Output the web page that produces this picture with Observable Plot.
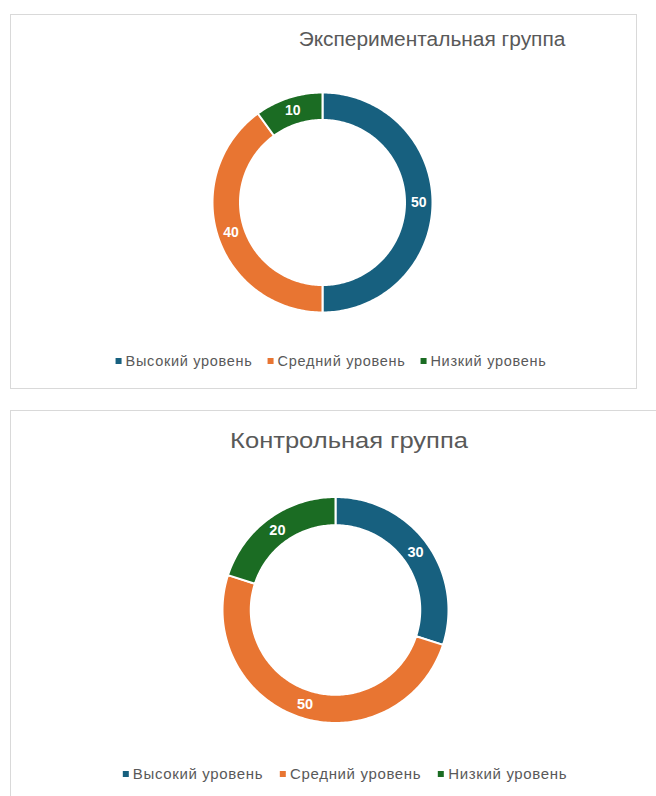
<!DOCTYPE html>
<html>
<head>
<meta charset="utf-8">
<script src="https://cdn.jsdelivr.net/npm/d3@7"></script>
<script src="https://cdn.jsdelivr.net/npm/@observablehq/plot@0.6"></script>
<style>
  html, body { margin: 0; padding: 0; background: #fff; overflow: hidden; }
  body { width: 656px; height: 796px; position: relative; font-family: "Liberation Sans", Arial, sans-serif; }
  .box { position: absolute; border: 1px solid #d9d9d9; box-sizing: border-box; background: #fff; }
  .chart { position: absolute; }
  .title { position: absolute; color: #595959; white-space: nowrap; }
  .legend { position: absolute; display: flex; align-items: center; white-space: nowrap; color: #595959; transform: translateX(-50%); }
  .legend .item { display: flex; align-items: center; }
  .legend .sw { display: inline-block; width: 6px; height: 6px; margin-right: 4px; }
</style>
</head>
<body>
<script>
// ---- data ----
const categories = ["Высокий уровень", "Средний уровень", "Низкий уровень"];
const colors = ["#17607f", "#e87532", "#1b6c23"];
const experimentalValues = [50, 40, 10];
const controlValues = [30, 50, 20];
const titles = ["Экспериментальная группа", "Контрольная группа"];

const HOLE = 0.75; // inner radius / outer radius

function ringFeatures(values) {
  const total = d3.sum(values);
  let acc = 0;
  const feats = [], labels = [];
  values.forEach((v, i) => {
    const a0 = acc / total * 2 * Math.PI;
    acc += v;
    const a1 = acc / total * 2 * Math.PI;
    const n = Math.max(8, Math.ceil((a1 - a0) / (Math.PI / 180)));
    const ring = [];
    for (let k = 0; k <= n; k++) {
      const a = a0 + (a1 - a0) * k / n;
      ring.push([Math.sin(a), -Math.cos(a)]);
    }
    for (let k = n; k >= 0; k--) {
      const a = a0 + (a1 - a0) * k / n;
      ring.push([HOLE * Math.sin(a), -HOLE * Math.cos(a)]);
    }
    ring.push(ring[0]);
    feats.push({type: "Feature", properties: {category: categories[i], value: v},
      geometry: {type: "Polygon", coordinates: [ring]}});
    const am = (a0 + a1) / 2, rm = (1 + HOLE) / 2;
    labels.push({x: rm * Math.sin(am), y: -rm * Math.cos(am), value: v});
  });
  return {feats, labels};
}

function outline() {
  const ring = d3.range(0, 361, 2).map(d => {
    const a = d * Math.PI / 180;
    return [Math.sin(a), -Math.cos(a)];
  });
  return {type: "Polygon", coordinates: [ring]};
}

function donut(values, cfg) {
  const {feats, labels} = ringFeatures(values);
  return Plot.plot({
    width: cfg.width,
    height: cfg.height,
    marginLeft: cfg.ml, marginRight: cfg.mr, marginTop: cfg.mt, marginBottom: cfg.mb,
    projection: {type: "identity", domain: outline()},
    color: {domain: categories, range: colors},
    style: {background: "transparent", overflow: "visible"},
    marks: [
      Plot.geo(feats, {fill: d => d.properties.category, stroke: "white", strokeWidth: 2}),
      Plot.text(labels, {x: "x", y: "y", text: d => String(d.value), fill: "white",
        fontWeight: "bold", fontSize: cfg.labelSize, fontFamily: "'Liberation Sans Narrow', 'Liberation Sans', Arial, sans-serif"})
    ]
  });
}

function legend(parent, left, top, fontSize, spacing, gap) {
  const lg = document.createElement("div");
  lg.className = "legend";
  lg.style.left = left + "px";
  lg.style.top = top + "px";
  lg.style.fontSize = fontSize + "px";
  lg.style.letterSpacing = spacing + "px";
  categories.forEach((c, i) => {
    const it = document.createElement("span");
    it.className = "item";
    if (i > 0) it.style.marginLeft = gap + "px";
    const sw = document.createElement("span");
    sw.className = "sw";
    sw.style.background = colors[i];
    it.appendChild(sw);
    const t = document.createElement("span");
    t.textContent = c;
    it.appendChild(t);
    lg.appendChild(it);
  });
  parent.appendChild(lg);
}

function title(parent, text, left, top, fontSize, stretch) {
  const t = document.createElement("div");
  t.className = "title";
  t.textContent = text;
  t.style.left = left + "px";
  t.style.top = top + "px";
  t.style.fontSize = fontSize + "px";
  t.style.lineHeight = fontSize + "px";
  t.style.transform = `translateX(-50%) scaleX(${stretch})`;
  parent.appendChild(t);
}

const root = document.body;

// Box 1 — experimental group
const box1 = document.createElement("div");
box1.className = "box";
Object.assign(box1.style, {left: "10px", top: "14px", width: "627px", height: "375px"});
root.appendChild(box1);
const c1 = donut(experimentalValues, {width: 626, height: 374, ml: 202, mr: 204, mt: 78, mb: 76, labelSize: 14});
c1.classList.add("chart");
Object.assign(c1.style, {left: "10px", top: "14px", position: "absolute"});
root.appendChild(c1);
title(root, titles[0], 432, 29, 20, 1.045);
legend(root, 331, 353, 14.5, 0.7, 15);

// Box 2 — control group
const box2 = document.createElement("div");
box2.className = "box";
Object.assign(box2.style, {left: "10px", top: "410px", width: "700px", height: "450px"});
root.appendChild(box2);
const c2 = donut(controlValues, {width: 646, height: 386, ml: 212, mr: 208, mt: 86.5, mb: 73.5, labelSize: 14.5});
c2.classList.add("chart");
Object.assign(c2.style, {left: "10px", top: "410px", position: "absolute"});
root.appendChild(c2);
title(root, titles[1], 349, 430, 22, 1.16);
legend(root, 345, 765, 15, 0.65, 17);
</script>
</body>
</html>
